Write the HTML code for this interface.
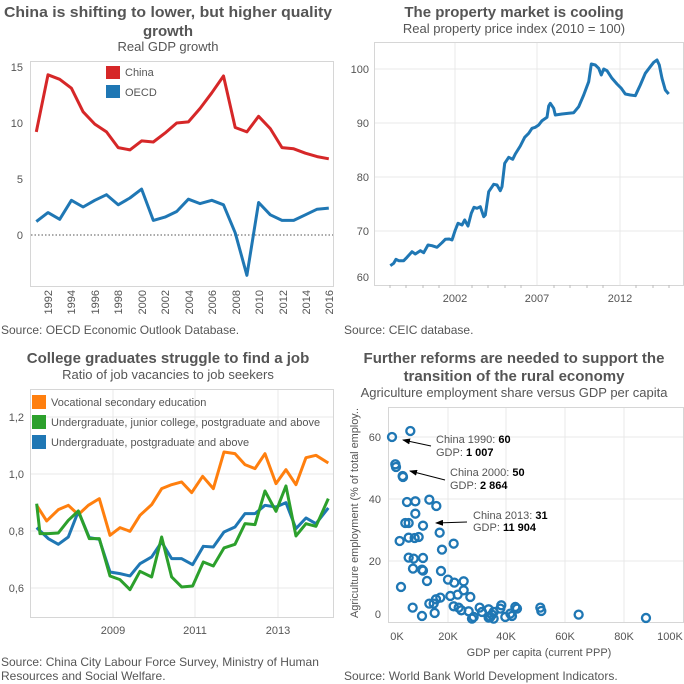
<!DOCTYPE html>
<html><head><meta charset="utf-8"><style>
html,body{margin:0;padding:0;background:#fff}
svg{display:block;font-family:"Liberation Sans",sans-serif}
.t{font-weight:bold;font-size:15px;fill:#555;text-anchor:middle}
.s{font-size:13px;fill:#555;text-anchor:middle}
.src{font-size:12px;fill:#555}
.tk{font-size:11px;fill:#555}
.box{fill:none;stroke:#d6d6d6;stroke-width:1}
.g{stroke:#e8e8e8;stroke-width:1}
</style></head><body>
<svg width="684" height="684" viewBox="0 0 684 684">
<!-- Panel 1 -->
<text class="t" x="168" y="17" textLength="328" lengthAdjust="spacingAndGlyphs">China is shifting to lower, but higher quality</text>
<text class="t" x="168" y="36">growth</text>
<text class="s" x="168" y="51">Real GDP growth</text>
<rect class="box" x="30.5" y="61.5" width="303" height="225"/>
<line x1="31" y1="235" x2="333" y2="235" stroke="#555" stroke-dasharray="1.5,2"/>
<g class="tk" text-anchor="end"><text x="23" y="71">15</text><text x="23" y="127">10</text><text x="23" y="183">5</text><text x="23" y="239">0</text></g>
<g class="tk" text-anchor="end">
<text transform="translate(52,290) rotate(-90)">1992</text>
<text transform="translate(75,290) rotate(-90)">1994</text>
<text transform="translate(99,290) rotate(-90)">1996</text>
<text transform="translate(122,290) rotate(-90)">1998</text>
<text transform="translate(146,290) rotate(-90)">2000</text>
<text transform="translate(169,290) rotate(-90)">2002</text>
<text transform="translate(193,290) rotate(-90)">2004</text>
<text transform="translate(216,290) rotate(-90)">2006</text>
<text transform="translate(240,290) rotate(-90)">2008</text>
<text transform="translate(263,290) rotate(-90)">2010</text>
<text transform="translate(287,290) rotate(-90)">2012</text>
<text transform="translate(310,290) rotate(-90)">2014</text>
<text transform="translate(333,290) rotate(-90)">2016</text>
</g>
<polyline fill="none" stroke="#d62728" stroke-width="3" stroke-linejoin="round" points="36.3,131.9 48,74.8 59.7,79.3 71.4,88.2 83.1,111.8 94.8,124.1 106.5,131.9 118.2,147.6 129.9,149.9 141.6,140.9 153.3,142.0 165,133.1 176.7,123.0 188.4,121.9 200.1,108.4 211.8,92.8 223.5,76.0 235.2,127.5 246.9,131.9 258.6,116.3 270.3,128.6 282,147.6 293.7,148.8 305.4,153.2 317.1,156.6 328.8,158.8"/>
<polyline fill="none" stroke="#1f77b4" stroke-width="3" stroke-linejoin="round" points="36.3,221.6 48,212.6 59.7,219.3 71.4,200.3 83.1,207.0 94.8,200.3 106.5,194.7 118.2,204.8 129.9,198.0 141.6,189.1 153.3,220.4 165,217.1 176.7,211.5 188.4,199.2 200.1,203.6 211.8,200.3 223.5,204.8 235.2,232.8 246.9,275.3 258.6,202.5 270.3,214.8 282,220.4 293.7,220.4 305.4,214.8 317.1,209.2 328.8,208.1"/>
<rect x="106" y="66" width="14" height="13" fill="#d62728"/><text class="tk" x="125" y="76" font-size="11">China</text>
<rect x="106" y="85" width="14" height="13" fill="#1f77b4"/><text class="tk" x="125" y="96">OECD</text>
<text class="src" x="1" y="334">Source: OECD Economic Outlook Database.</text>

<!-- Panel 2 -->
<text class="t" x="514" y="17">The property market is cooling</text>
<text class="s" x="514" y="33">Real property price index (2010 = 100)</text>
<rect class="box" x="374.5" y="42.5" width="309" height="243"/>
<g class="g"><line x1="375" y1="69" x2="683" y2="69"/><line x1="375" y1="123" x2="683" y2="123"/><line x1="375" y1="177" x2="683" y2="177"/><line x1="375" y1="231" x2="683" y2="231"/>
<line x1="455" y1="43" x2="455" y2="285"/><line x1="537" y1="43" x2="537" y2="285"/><line x1="620" y1="43" x2="620" y2="285"/></g>
<g stroke="#bbb"><line x1="390" y1="285" x2="390" y2="288"/><line x1="406" y1="285" x2="406" y2="288"/><line x1="423" y1="285" x2="423" y2="288"/><line x1="439" y1="285" x2="439" y2="288"/><line x1="472" y1="285" x2="472" y2="288"/><line x1="488" y1="285" x2="488" y2="288"/><line x1="505" y1="285" x2="505" y2="288"/><line x1="521" y1="285" x2="521" y2="288"/><line x1="554" y1="285" x2="554" y2="288"/><line x1="570" y1="285" x2="570" y2="288"/><line x1="587" y1="285" x2="587" y2="288"/><line x1="603" y1="285" x2="603" y2="288"/><line x1="636" y1="285" x2="636" y2="288"/><line x1="653" y1="285" x2="653" y2="288"/><line x1="669" y1="285" x2="669" y2="288"/></g>
<g class="tk" text-anchor="end"><text x="369" y="73">100</text><text x="369" y="127">90</text><text x="369" y="181">80</text><text x="369" y="235">70</text><text x="369" y="281">60</text></g>
<g class="tk" text-anchor="middle"><text x="455" y="302">2002</text><text x="537" y="302">2007</text><text x="620" y="302">2012</text></g>
<polyline fill="none" stroke="#1f77b4" stroke-width="3" stroke-linejoin="round" points="390.3,265.7 393.7,263.3 396,259.3 398.7,260.7 403.7,260.7 407,257.3 412,251.7 415.3,254 420.3,250.7 423.7,252.7 428,245 432,245.7 437,247.3 442,242.7 445.3,239.3 449.3,239 452,240 455.3,230 458,223.3 462,225 464.7,220 468,226 471.3,213.3 474,207.3 477,208.3 480.3,206.7 483.7,216.7 485.3,215 488.7,191.7 493.7,184.3 497,185 500.3,190.7 502,186.7 504.7,163.3 508.7,157.3 512.7,159.3 515.3,154 520.3,146 524.7,137.3 528.7,133.3 532,128.3 535.3,127.3 538.7,125 542,120.7 547,117.3 548.7,106 550.3,103.3 553.7,108.3 555.3,115 562,114 568.7,113.3 573.7,112.7 578.7,106.7 583.7,95 588.7,81.7 591.3,64 595.3,65 598.7,68.3 601.3,75 603.7,69 607,70.7 612,78.3 617,84 621.3,88.3 625.3,94 630.3,95 635.3,95.7 640.3,85 645.3,73.3 650.3,66.7 653.7,62.3 657,60 659.3,65 662,78.3 665.3,90 668.7,94"/>
<text class="src" x="344" y="334">Source: CEIC database.</text>

<!-- Panel 3 -->
<text class="t" x="168" y="363">College graduates struggle to find a job</text>
<text class="s" x="168" y="379">Ratio of job vacancies to job seekers</text>
<rect class="box" x="30.5" y="389.5" width="303" height="228"/>
<g class="g"><line x1="31" y1="417" x2="333" y2="417"/><line x1="31" y1="474" x2="333" y2="474"/><line x1="31" y1="531" x2="333" y2="531"/><line x1="31" y1="588" x2="333" y2="588"/>
<line x1="113" y1="390" x2="113" y2="617"/><line x1="195" y1="390" x2="195" y2="617"/><line x1="278" y1="390" x2="278" y2="617"/></g>
<g class="tk" text-anchor="end"><text x="24" y="421">1,2</text><text x="24" y="478">1,0</text><text x="24" y="535">0,8</text><text x="24" y="592">0,6</text></g>
<g class="tk" text-anchor="middle"><text x="113" y="634">2009</text><text x="195" y="634">2011</text><text x="278" y="634">2013</text></g>
<g fill="none" stroke-width="3" stroke-linejoin="round" transform="translate(0,342) scale(0.3333)">
<polyline stroke="#ff7f0e" stroke-width="9" points="110,490 140,537 175,503 205,490 235,518 265,490 298,470 330,580 360,557 390,568 420,520 455,488 485,440 515,428 545,420 575,452 608,403 640,440 672,330 705,335 735,368 765,380 795,335 828,425 858,383 888,428 918,347 948,340 985,363"/>
<polyline stroke="#1f77b4" stroke-width="9" points="110,557 145,590 175,607 205,585 235,508 268,587 298,592 330,690 360,695 390,702 420,665 455,645 485,600 515,650 545,650 578,668 610,613 640,615 672,570 705,555 735,515 765,515 795,490 828,495 858,482 888,560 918,528 948,545 985,498"/>
<polyline stroke="#2ca02c" stroke-width="9" points="110,485 120,575 145,575 175,573 205,535 235,507 268,590 298,590 330,702 360,713 390,743 420,688 455,705 485,585 515,705 545,735 578,732 610,660 640,672 672,618 705,607 735,545 765,548 795,447 828,508 858,432 888,582 918,545 948,553 985,470"/>
</g>
<rect x="32" y="395" width="14" height="14" fill="#ff7f0e"/><text class="tk" x="51" y="406">Vocational secondary education</text>
<rect x="32" y="415" width="14" height="14" fill="#2ca02c"/><text class="tk" x="51" y="426">Undergraduate, junior college, postgraduate and above</text>
<rect x="32" y="435" width="14" height="14" fill="#1f77b4"/><text class="tk" x="51" y="446">Undergraduate, postgraduate and above</text>
<text class="src" x="1" y="666">Source: China City Labour Force Survey, Ministry of Human</text>
<text class="src" x="1" y="680">Resources and Social Welfare.</text>

<!-- Panel 4 -->
<text class="t" x="514" y="363">Further reforms are needed to support the</text>
<text class="t" x="514" y="381">transition of the rural economy</text>
<text class="s" x="514" y="397">Agriculture employment share versus GDP per capita</text>
<rect class="box" x="388.5" y="407.5" width="295" height="215"/>
<g class="g"><line x1="389" y1="437" x2="683" y2="437"/><line x1="389" y1="499" x2="683" y2="499"/><line x1="389" y1="561" x2="683" y2="561"/>
<line x1="448" y1="408" x2="448" y2="622"/><line x1="506" y1="408" x2="506" y2="622"/><line x1="565" y1="408" x2="565" y2="622"/><line x1="624" y1="408" x2="624" y2="622"/></g>
<g class="tk" text-anchor="end"><text x="381" y="441">60</text><text x="381" y="503">40</text><text x="381" y="565">20</text><text x="381" y="618">0</text></g>
<g class="tk" text-anchor="middle"><text x="397" y="640">0K</text><text x="448" y="640">20K</text><text x="506" y="640">40K</text><text x="565" y="640">60K</text><text x="624" y="640">80K</text><text x="670" y="640">100K</text></g>
<text class="tk" x="539" y="656" text-anchor="middle">GDP per capita (current PPP)</text>
<text class="tk" transform="translate(358,513) rotate(-90)" text-anchor="middle" textLength="210" lengthAdjust="spacingAndGlyphs">Agriculture employment (% of total employ..</text>
<g fill="none" stroke="#1f77b4" stroke-width="7" transform="translate(342,342) scale(0.3333)">
<circle cx="150" cy="285" r="12"/><circle cx="205" cy="267" r="12"/><circle cx="160" cy="367" r="12"/><circle cx="162" cy="375" r="12"/><circle cx="182" cy="402" r="12"/><circle cx="183" cy="405" r="12"/><circle cx="195" cy="480" r="12"/><circle cx="220" cy="478" r="12"/><circle cx="262" cy="473" r="12"/><circle cx="283" cy="492" r="12"/><circle cx="220" cy="515" r="12"/><circle cx="190" cy="543" r="12"/><circle cx="200" cy="543" r="12"/><circle cx="243" cy="551" r="12"/><circle cx="173" cy="597" r="12"/><circle cx="200" cy="587" r="12"/><circle cx="218" cy="588" r="12"/><circle cx="230" cy="585" r="12"/><circle cx="293" cy="572" r="12"/><circle cx="335" cy="605" r="12"/><circle cx="300" cy="623" r="12"/><circle cx="200" cy="647" r="12"/><circle cx="215" cy="650" r="12"/><circle cx="243" cy="648" r="12"/><circle cx="213" cy="680" r="12"/><circle cx="240" cy="683" r="12"/><circle cx="243" cy="686" r="12"/><circle cx="297" cy="687" r="12"/><circle cx="255" cy="717" r="12"/><circle cx="177" cy="735" r="12"/><circle cx="318" cy="713" r="12"/><circle cx="337" cy="722" r="12"/><circle cx="365" cy="718" r="12"/><circle cx="365" cy="745" r="12"/><circle cx="347" cy="758" r="12"/><circle cx="325" cy="762" r="12"/><circle cx="385" cy="765" r="12"/><circle cx="295" cy="767" r="12"/><circle cx="282" cy="772" r="12"/><circle cx="262" cy="785" r="12"/><circle cx="275" cy="785" r="12"/><circle cx="335" cy="793" r="12"/><circle cx="350" cy="797" r="12"/><circle cx="358" cy="805" r="12"/><circle cx="380" cy="808" r="12"/><circle cx="212" cy="797" r="12"/><circle cx="240" cy="822" r="12"/><circle cx="278" cy="813" r="12"/><circle cx="395" cy="825" r="12"/><circle cx="413" cy="797" r="12"/><circle cx="420" cy="810" r="12"/><circle cx="440" cy="802" r="12"/><circle cx="450" cy="818" r="12"/><circle cx="440" cy="827" r="12"/><circle cx="455" cy="810" r="12"/><circle cx="478" cy="790" r="12"/><circle cx="475" cy="800" r="12"/><circle cx="490" cy="825" r="12"/><circle cx="505" cy="815" r="12"/><circle cx="510" cy="822" r="12"/><circle cx="520" cy="795" r="12"/><circle cx="525" cy="800" r="12"/><circle cx="595" cy="797" r="12"/><circle cx="598" cy="807" r="12"/><circle cx="710" cy="818" r="12"/><circle cx="912" cy="828" r="12"/><circle cx="445" cy="825" r="12"/><circle cx="455" cy="830" r="12"/><circle cx="390" cy="830" r="12"/>
</g>
<defs><marker id="ah" markerWidth="8" markerHeight="6" refX="7" refY="3" orient="auto"><path d="M0,0 L8,3 L0,6 z" fill="#000"/></marker></defs>
<g stroke="#000" stroke-width="1"><line x1="431" y1="446" x2="403" y2="440" marker-end="url(#ah)"/><line x1="445" y1="480" x2="410" y2="471" marker-end="url(#ah)"/><line x1="467" y1="522" x2="436" y2="523" marker-end="url(#ah)"/></g>
<g class="tk" font-size="11"><text x="436" y="443">China 1990: <tspan fill="#000" font-weight="bold">60</tspan></text><text x="436" y="456">GDP: <tspan fill="#000" font-weight="bold">1 007</tspan></text>
<text x="450" y="476">China 2000: <tspan fill="#000" font-weight="bold">50</tspan></text><text x="450" y="489">GDP: <tspan fill="#000" font-weight="bold">2 864</tspan></text>
<text x="473" y="519">China 2013: <tspan fill="#000" font-weight="bold">31</tspan></text><text x="473" y="531">GDP: <tspan fill="#000" font-weight="bold">11 904</tspan></text></g>
<text class="src" x="344" y="680">Source: World Bank World Development Indicators.</text>
</svg>
</body></html>
